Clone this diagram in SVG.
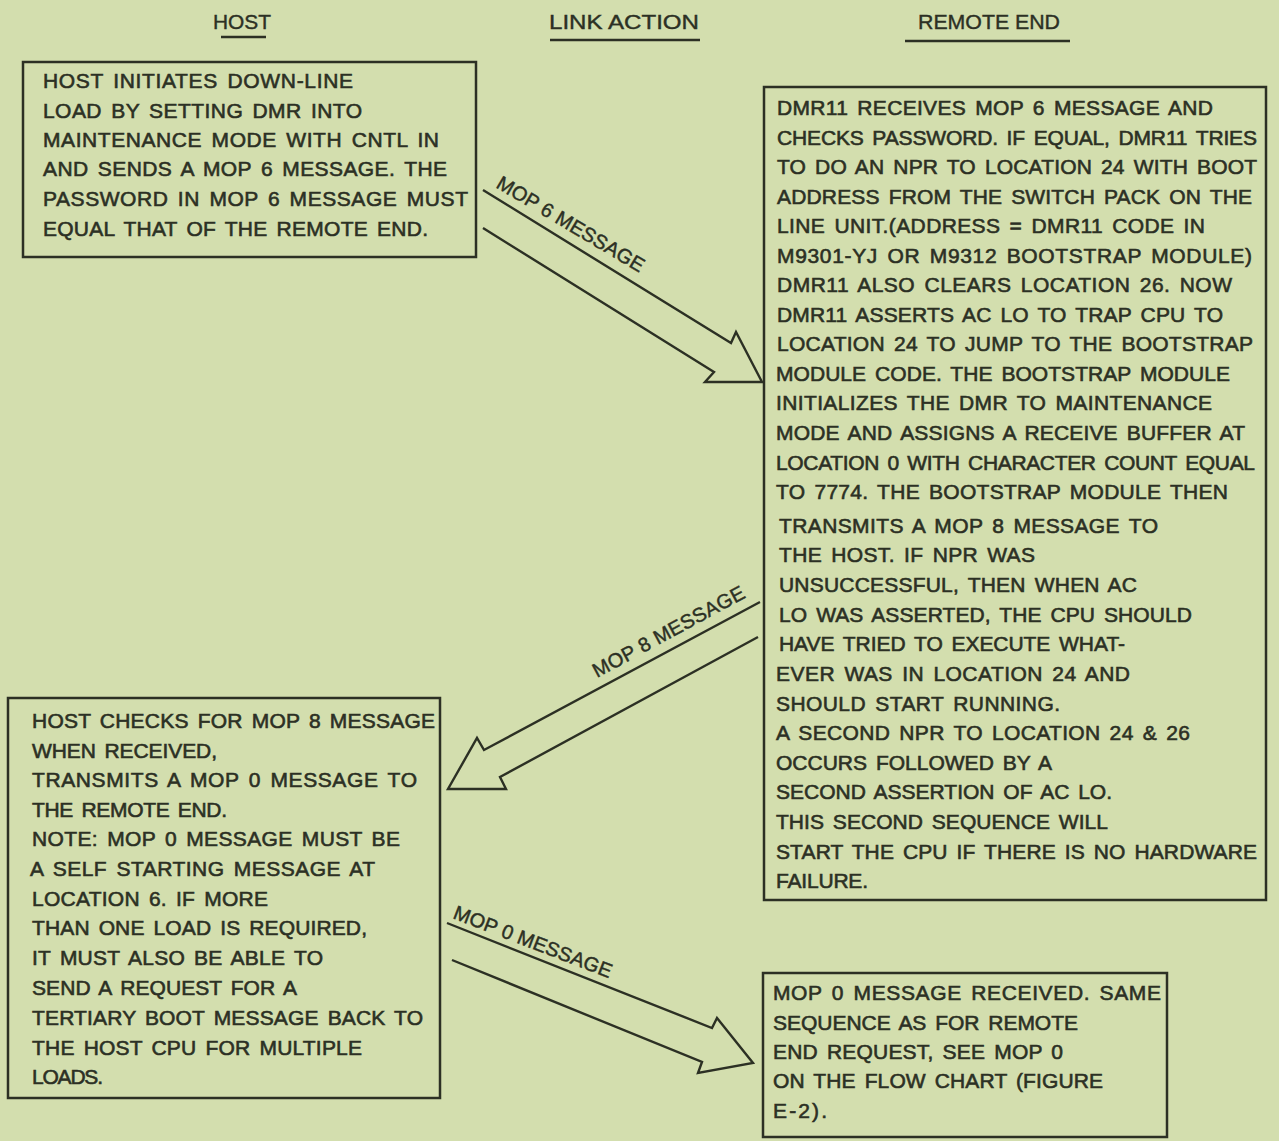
<svg xmlns="http://www.w3.org/2000/svg" width="1279" height="1141" viewBox="0 0 1279 1141">
<style>
.bg{fill:#d3deae}
.box{fill:none;stroke:#2c3024;stroke-width:2.5}
.t{font-family:"Liberation Sans",Arial,sans-serif;font-size:21px;fill:#2c3024;word-spacing:3px;stroke:#2c3024;stroke-width:0.6}
.h{font-family:"Liberation Sans",Arial,sans-serif;font-size:21px;fill:#2c3024;stroke:#2c3024;stroke-width:0.4}
.lbl{font-family:"Liberation Sans",Arial,sans-serif;font-size:20px;fill:#2c3024;stroke:#2c3024;stroke-width:0.45}
.ul{stroke:#2c3024;stroke-width:2.5}
.arr{fill:none;stroke:#2c3024;stroke-width:2.4;stroke-linejoin:miter}
</style>
<rect class="bg" x="0" y="0" width="1279" height="1141"/>

<g id="headers">
<text class="h" x="213" y="29" textLength="58" lengthAdjust="spacingAndGlyphs">HOST</text>
<line class="ul" x1="221" y1="37" x2="266" y2="37"/>
<text class="h" x="549" y="29" textLength="150" lengthAdjust="spacingAndGlyphs">LINK  ACTION</text>
<line class="ul" x1="550" y1="40" x2="700" y2="40"/>
<text class="h" x="918" y="29" textLength="142" lengthAdjust="spacingAndGlyphs">REMOTE END</text>
<line class="ul" x1="905" y1="41" x2="1070" y2="41"/>
</g>

<g id="host-initiates">
<rect class="box" x="23" y="62" width="453" height="195"/>
<text class="t" x="43" y="88" textLength="310" lengthAdjust="spacing">HOST INITIATES DOWN-LINE</text>
<text class="t" x="43" y="117.5" textLength="319" lengthAdjust="spacing">LOAD BY SETTING DMR INTO</text>
<text class="t" x="43" y="146.5" textLength="396" lengthAdjust="spacing">MAINTENANCE MODE WITH CNTL IN</text>
<text class="t" x="43" y="176" textLength="404" lengthAdjust="spacing">AND SENDS A MOP 6 MESSAGE. THE</text>
<text class="t" x="43" y="206" textLength="425" lengthAdjust="spacing">PASSWORD IN MOP 6 MESSAGE MUST</text>
<text class="t" x="43" y="235.5" textLength="385" lengthAdjust="spacing">EQUAL THAT OF THE REMOTE END.</text>
</g>

<g id="dmr11-receives">
<rect class="box" x="764" y="87" width="502" height="813"/>
<text class="t" x="777" y="115" textLength="436" lengthAdjust="spacing">DMR11  RECEIVES MOP 6 MESSAGE AND</text>
<text class="t" x="777" y="144.5" textLength="480" lengthAdjust="spacing">CHECKS PASSWORD. IF EQUAL, DMR11 TRIES</text>
<text class="t" x="777" y="174" textLength="480" lengthAdjust="spacing">TO DO AN NPR TO LOCATION 24 WITH BOOT</text>
<text class="t" x="777" y="203.5" textLength="475" lengthAdjust="spacing">ADDRESS FROM THE SWITCH PACK ON THE</text>
<text class="t" x="777" y="233" textLength="428" lengthAdjust="spacing">LINE UNIT.(ADDRESS = DMR11  CODE IN</text>
<text class="t" x="777" y="262.5" textLength="475" lengthAdjust="spacing">M9301-YJ OR M9312 BOOTSTRAP MODULE)</text>
<text class="t" x="777" y="292" textLength="455" lengthAdjust="spacing">DMR11  ALSO CLEARS LOCATION 26. NOW</text>
<text class="t" x="777" y="321.5" textLength="446" lengthAdjust="spacing">DMR11  ASSERTS AC LO TO TRAP CPU TO</text>
<text class="t" x="777" y="351" textLength="476" lengthAdjust="spacing">LOCATION 24 TO JUMP TO THE BOOTSTRAP</text>
<text class="t" x="776" y="381" textLength="454" lengthAdjust="spacing">MODULE CODE. THE BOOTSTRAP MODULE</text>
<text class="t" x="776" y="410" textLength="436" lengthAdjust="spacing">INITIALIZES THE DMR TO MAINTENANCE</text>
<text class="t" x="776" y="440" textLength="469" lengthAdjust="spacing">MODE AND ASSIGNS A RECEIVE BUFFER AT</text>
<text class="t" x="776" y="470" textLength="479" lengthAdjust="spacing">LOCATION 0 WITH CHARACTER COUNT EQUAL</text>
<text class="t" x="776" y="498.5" textLength="452" lengthAdjust="spacing">TO 7774. THE BOOTSTRAP MODULE THEN</text>
<text class="t" x="779" y="533" textLength="379" lengthAdjust="spacing">TRANSMITS A MOP 8 MESSAGE TO</text>
<text class="t" x="779" y="562" textLength="256" lengthAdjust="spacing">THE HOST. IF NPR WAS</text>
<text class="t" x="779" y="592" textLength="358" lengthAdjust="spacing">UNSUCCESSFUL, THEN WHEN AC</text>
<text class="t" x="779" y="622" textLength="413" lengthAdjust="spacing">LO WAS ASSERTED, THE CPU SHOULD</text>
<text class="t" x="779" y="651" textLength="346" lengthAdjust="spacing">HAVE TRIED TO EXECUTE WHAT-</text>
<text class="t" x="776" y="681" textLength="354" lengthAdjust="spacing">EVER WAS IN LOCATION 24 AND</text>
<text class="t" x="776" y="711" textLength="284" lengthAdjust="spacing">SHOULD START RUNNING.</text>
<text class="t" x="776" y="740" textLength="414" lengthAdjust="spacing">A SECOND NPR TO LOCATION 24 &amp; 26</text>
<text class="t" x="776" y="770" textLength="276" lengthAdjust="spacing">OCCURS FOLLOWED BY A</text>
<text class="t" x="776" y="799" textLength="336" lengthAdjust="spacing">SECOND ASSERTION OF AC LO.</text>
<text class="t" x="776" y="829" textLength="332" lengthAdjust="spacing">THIS SECOND SEQUENCE WILL</text>
<text class="t" x="776" y="859" textLength="481" lengthAdjust="spacing">START THE CPU IF THERE IS NO HARDWARE</text>
<text class="t" x="776" y="888" textLength="92" lengthAdjust="spacing">FAILURE.</text>
</g>

<g id="host-checks">
<rect class="box" x="8" y="698" width="432" height="400"/>
<text class="t" x="32" y="728" textLength="403" lengthAdjust="spacing">HOST CHECKS FOR MOP 8 MESSAGE</text>
<text class="t" x="32" y="757.5" textLength="185" lengthAdjust="spacing">WHEN RECEIVED,</text>
<text class="t" x="32" y="787" textLength="385" lengthAdjust="spacing">TRANSMITS A MOP 0 MESSAGE TO</text>
<text class="t" x="32" y="817" textLength="195" lengthAdjust="spacing">THE REMOTE END.</text>
<text class="t" x="32" y="846" textLength="368" lengthAdjust="spacing">NOTE: MOP 0 MESSAGE MUST BE</text>
<text class="t" x="30" y="876" textLength="345" lengthAdjust="spacing">A SELF STARTING MESSAGE AT</text>
<text class="t" x="32" y="906" textLength="236" lengthAdjust="spacing">LOCATION 6. IF MORE</text>
<text class="t" x="32" y="935" textLength="335" lengthAdjust="spacing">THAN ONE LOAD IS REQUIRED,</text>
<text class="t" x="32" y="965" textLength="291" lengthAdjust="spacing">IT MUST ALSO BE ABLE TO</text>
<text class="t" x="32" y="995" textLength="265" lengthAdjust="spacing">SEND A REQUEST FOR A</text>
<text class="t" x="32" y="1025" textLength="391" lengthAdjust="spacing">TERTIARY BOOT MESSAGE BACK TO</text>
<text class="t" x="32" y="1054.5" textLength="330" lengthAdjust="spacing">THE HOST CPU FOR MULTIPLE</text>
<text class="t" x="32" y="1083.5" textLength="71" lengthAdjust="spacing">LOADS.</text>
</g>

<g id="mop0-received">
<rect class="box" x="763" y="973" width="404" height="164"/>
<text class="t" x="773" y="1000" textLength="388" lengthAdjust="spacing">MOP 0 MESSAGE RECEIVED. SAME</text>
<text class="t" x="773" y="1030" textLength="305" lengthAdjust="spacing">SEQUENCE AS FOR REMOTE</text>
<text class="t" x="773" y="1059" textLength="290" lengthAdjust="spacing">END REQUEST, SEE MOP 0</text>
<text class="t" x="773" y="1088" textLength="330" lengthAdjust="spacing">ON THE FLOW CHART (FIGURE</text>
<text class="t" x="773" y="1118" textLength="54" lengthAdjust="spacing">E-2).</text>
</g>

<g id="connectors">
<g id="mop6">
<path class="arr" d="M483,190 L731,343 L736,332 L762,382 L705,382 L714,372 L483,228"/>
<text class="lbl" transform="translate(495,187) rotate(30.7)" textLength="168" lengthAdjust="spacing">MOP 6 MESSAGE</text>
</g>
<g id="mop8">
<path class="arr" d="M760,602 L484,750 L477,738 L448,789 L506,789 L500,777 L758,637"/>
<text class="lbl" transform="translate(597,678) rotate(-28.4)" textLength="170" lengthAdjust="spacing">MOP 8 MESSAGE</text>
</g>
<g id="mop0">
<path class="arr" d="M447,923 L712,1028 L717,1018 L753,1063 L698,1073 L702,1062 L452,960"/>
<text class="lbl" transform="translate(452,918) rotate(21)" textLength="168" lengthAdjust="spacing">MOP 0 MESSAGE</text>
</g>
</g>
</svg>
